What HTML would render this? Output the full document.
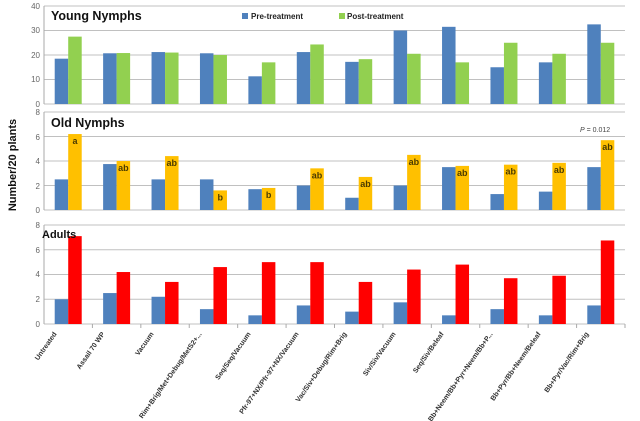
<!DOCTYPE html>
<html><head><style>
body{margin:0;background:#fff;}
svg{display:block;font-family:"Liberation Sans",sans-serif;}
.t{font-size:8px;fill:#666;text-anchor:end}
.x{font-size:7px;fill:#333;font-weight:bold;text-anchor:end}
.l{font-size:9px;font-weight:bold;fill:#4a3a00;text-anchor:middle}
</style></head><body>
<svg id="s" width="640" height="421" xmlns="http://www.w3.org/2000/svg">
<g id="g"></g>
<text x="51" y="20" font-size="12.5" font-weight="bold" fill="#111">Young Nymphs</text>
<text x="51" y="127" font-size="12.5" font-weight="bold" fill="#111">Old Nymphs</text>
<text x="42" y="238" font-size="11" font-weight="bold" fill="#111">Adults</text>
<rect x="242" y="13" width="6" height="6" fill="#4f81bd"/>
<text x="251" y="19" font-size="8" font-weight="bold" fill="#222">Pre-treatment</text>
<rect x="339" y="13" width="6" height="6" fill="#92d050"/>
<text x="347" y="19" font-size="8" font-weight="bold" fill="#222">Post-treatment</text>
<text x="580" y="132" font-size="7" fill="#444"><tspan font-style="italic">P</tspan> = 0.012</text>
<text transform="translate(16,165) rotate(-90)" font-size="11" font-weight="bold" text-anchor="middle" fill="#111">Number/20 plants</text>
<text class="t" x="40" y="9">40</text><text class="t" x="40" y="33">30</text><text class="t" x="40" y="58">20</text><text class="t" x="40" y="82">10</text><text class="t" x="40" y="107">0</text>
<text class="t" x="40" y="115">8</text><text class="t" x="40" y="140">6</text><text class="t" x="40" y="164">4</text><text class="t" x="40" y="189">2</text><text class="t" x="40" y="213">0</text>
<text class="t" x="40" y="228">8</text><text class="t" x="40" y="253">6</text><text class="t" x="40" y="277">4</text><text class="t" x="40" y="302">2</text><text class="t" x="40" y="327">0</text>
<g id="xl">
<text class="x" transform="translate(57,334) rotate(-55)">Untreated</text>
<text class="x" transform="translate(105,334) rotate(-55)">Assail 70 WP</text>
<text class="x" transform="translate(154,334) rotate(-55)">Vacuum</text>
<text class="x" transform="translate(202,334) rotate(-55)">Rim+Brig/Met+Debug/MetS2+...</text>
<text class="x" transform="translate(251,334) rotate(-55)">Seq/Seq/Vacuum</text>
<text class="x" transform="translate(299,334) rotate(-55)">Pfr-97+NX/Pfr-97+NX/Vacuum</text>
<text class="x" transform="translate(347,334) rotate(-55)">Vac/Siv+Debug/Rim+Brig</text>
<text class="x" transform="translate(396,334) rotate(-55)">Siv/Siv/Vacuum</text>
<text class="x" transform="translate(444,334) rotate(-55)">Seq/Siv/Beleaf</text>
<text class="x" transform="translate(493,334) rotate(-55)">Bb+Neem/Bb+Pyr+Neem/Bb+P...</text>
<text class="x" transform="translate(541,334) rotate(-55)">Bb+Pyr/Bb+Neem/Beleaf</text>
<text class="x" transform="translate(589,334) rotate(-55)">Bb+Pyr/Vac/Rim+Brig</text>
</g>
</svg>
<script>
var g=document.getElementById('g'),NS='http://www.w3.org/2000/svg';
function el(n,a){var e=document.createElementNS(NS,n);for(var k in a)e.setAttribute(k,a[k]);g.appendChild(e);return e;}
var L=44,R=625,W=(R-L)/12,bw=13.5;
var panels=[
 {top:6,bot:104,max:40,n:4,c2:'#92d050',
  a:[18.5,20.7,21.2,20.7,11.3,21.2,17.2,30,31.5,15,17,32.5],
  b:[27.5,20.8,21,20,17,24.3,18.3,20.5,17,25,20.5,25]},
 {top:112,bot:210,max:8,n:4,c2:'#ffc000',
  a:[2.5,3.75,2.5,2.5,1.7,2,1,2,3.5,1.3,1.5,3.5],
  b:[6.2,4,4.4,1.6,1.8,3.4,2.7,4.5,3.6,3.7,3.85,5.7],
  lab:['a','ab','ab','b','b','ab','ab','ab','ab','ab','ab','ab']},
 {top:225,bot:324,max:8,n:4,c2:'#ff0000',
  a:[2,2.5,2.2,1.2,0.7,1.5,1,1.75,0.7,1.2,0.7,1.5],
  b:[7.1,4.2,3.4,4.6,5,5,3.4,4.4,4.8,3.7,3.9,6.75]}];
panels.forEach(function(p,pi){
 var h=p.bot-p.top;
 for(var i=0;i<=p.n;i++){var y=p.top+h*i/p.n;el('line',{x1:L,x2:R,y1:y,y2:y,stroke:'#c0c0c0','stroke-width':1});}
 el('line',{x1:L,x2:L,y1:p.top,y2:p.bot,stroke:'#aaa'});
 for(var i=0;i<12;i++){
  var c=L+W*(i+0.5);
  var ya=p.bot-h*p.a[i]/p.max,yb=p.bot-h*p.b[i]/p.max;
  el('rect',{x:c-bw,y:ya,width:bw,height:p.bot-ya,fill:'#4f81bd'});
  el('rect',{x:c,y:yb,width:bw,height:p.bot-yb,fill:p.c2});
  if(p.lab){var t=el('text',{x:c+bw/2,y:Math.min(yb+10,p.bot-5),'class':'l'});t.textContent=p.lab[i];}
  if(pi==2){el('line',{x1:L+W*(i+1),x2:L+W*(i+1),y1:p.bot,y2:p.bot+4,stroke:'#aaa'});}
 }
});
</script>
</body></html>
